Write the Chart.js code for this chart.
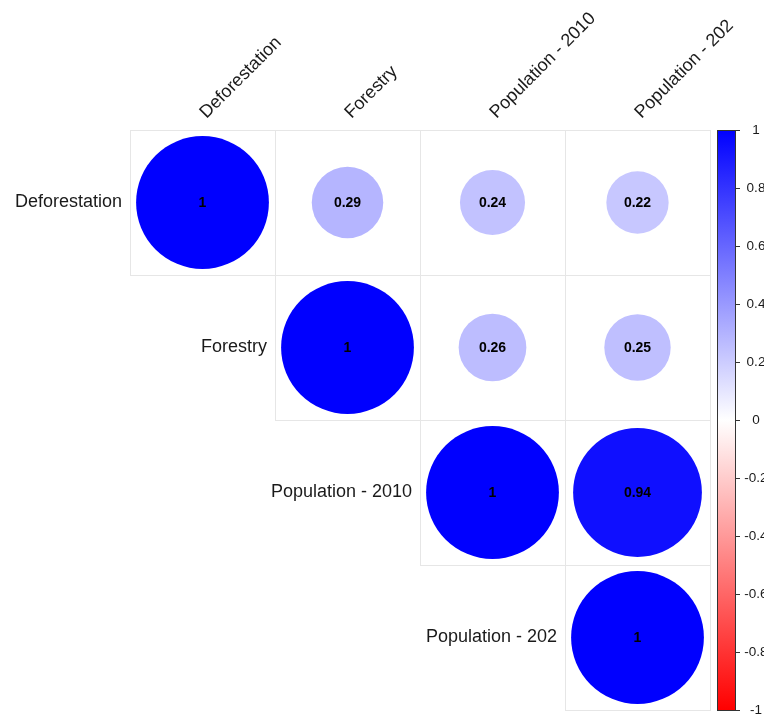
<!DOCTYPE html>
<html>
<head>
<meta charset="utf-8">
<title>Correlation matrix</title>
<script src="https://cdn.jsdelivr.net/npm/chart.js@4.4.1/dist/chart.umd.min.js"></script>
<style>
  html, body { margin: 0; padding: 0; background: #fff; }
  #wrap { width: 764px; height: 717px; }
</style>
</head>
<body>
<div id="wrap"><canvas id="corrChart" width="764" height="717"></canvas></div>
<script>
// variables and upper-triangle correlations (null = lower triangle, not drawn)
const variables = ['Deforestation', 'Forestry', 'Population - 2010', 'Population - 202'];
const rowDeforestation = [1, 0.29, 0.24, 0.22];
const rowForestry = [null, 1, 0.26, 0.25];
const rowPop2010 = [null, null, 1, 0.94];
const rowPop202 = [null, null, null, 1];
const corrRows = [rowDeforestation, rowForestry, rowPop2010, rowPop202];

// colour legend ticks
const legendTicks = [1, 0.8, 0.6, 0.4, 0.2, 0, -0.2, -0.4, -0.6, -0.8, -1];

const FONT = '"Liberation Sans", Arial, Helvetica, sans-serif';

// red - white - blue ramp
function corrColor(v) {
  if (v >= 0) {
    const c = Math.round(255 * (1 - v));
    return `rgb(${c},${c},255)`;
  }
  const c = Math.round(255 * (1 + v));
  return `rgb(255,${c},${c})`;
}

// one point per upper-triangle cell
const points = [];
corrRows.forEach((row, i) => {
  row.forEach((v, j) => {
    if (v !== null) points.push({ x: j + 0.5, y: i + 0.5, v: v });
  });
});

function cellSize(chart) {
  const s = chart.scales.x;
  return s.getPixelForValue(1) - s.getPixelForValue(0);
}

const corrPlugin = {
  id: 'corrDecor',
  beforeDatasetsDraw(chart) {
    const { ctx, scales: { x, y } } = chart;
    ctx.save();
    ctx.strokeStyle = '#e6e6e6';
    ctx.lineWidth = 1;
    corrRows.forEach((row, i) => {
      row.forEach((v, j) => {
        if (v === null) return;
        const x0 = Math.round(x.getPixelForValue(j)) + 0.5;
        const x1 = Math.round(x.getPixelForValue(j + 1)) + 0.5;
        const y0 = Math.round(y.getPixelForValue(i)) + 0.5;
        const y1 = Math.round(y.getPixelForValue(i + 1)) + 0.5;
        ctx.strokeRect(x0, y0, x1 - x0, y1 - y0);
      });
    });
    ctx.restore();
  },
  afterDatasetsDraw(chart) {
    const { ctx, scales: { x, y, cb } } = chart;
    ctx.save();

    // numbers inside circles
    ctx.fillStyle = '#000';
    ctx.font = 'bold 14px ' + FONT;
    ctx.textAlign = 'center';
    ctx.textBaseline = 'middle';
    points.forEach(p => {
      ctx.fillText(String(p.v), x.getPixelForValue(p.x), y.getPixelForValue(p.y) + 1);
    });

    // row labels, right-aligned just left of the diagonal cell
    ctx.fillStyle = '#1a1a1a';
    ctx.font = '18px ' + FONT;
    ctx.textAlign = 'right';
    variables.forEach((name, i) => {
      ctx.fillText(name, x.getPixelForValue(i) - 8, y.getPixelForValue(i + 0.5));
    });

    // column labels rotated 45 degrees
    ctx.textAlign = 'left';
    ctx.textBaseline = 'alphabetic';
    variables.forEach((name, j) => {
      ctx.save();
      ctx.translate(x.getPixelForValue(j + 0.5) + 4, y.getPixelForValue(0) - 11);
      ctx.rotate(-Math.PI / 4);
      ctx.fillText(name, 0, 0);
      ctx.restore();
    });

    // colour bar
    const bx = 717, bw = 19;
    const top = cb.getPixelForValue(1), bottom = cb.getPixelForValue(-1);
    const grad = ctx.createLinearGradient(0, top, 0, bottom);
    grad.addColorStop(0, corrColor(1));
    grad.addColorStop(0.5, corrColor(0));
    grad.addColorStop(1, corrColor(-1));
    ctx.fillStyle = grad;
    ctx.fillRect(bx, top, bw, bottom - top);
    ctx.strokeStyle = '#333';
    ctx.lineWidth = 1;
    ctx.strokeRect(bx + 0.5, top + 0.5, bw - 1, bottom - top);

    ctx.fillStyle = '#1a1a1a';
    ctx.font = '13.5px ' + FONT;
    ctx.textAlign = 'center';
    ctx.textBaseline = 'middle';
    legendTicks.forEach(t => {
      const py = Math.round(cb.getPixelForValue(t)) + 0.5;
      ctx.beginPath();
      ctx.moveTo(bx + bw, py);
      ctx.lineTo(bx + bw + 4, py);
      ctx.strokeStyle = '#333';
      ctx.stroke();
      ctx.fillText(String(t), 756, py);
    });
    ctx.restore();
  }
};

new Chart(document.getElementById('corrChart'), {
  type: 'scatter',
  data: {
    datasets: [{
      data: points,
      pointRadius: c => Math.sqrt(Math.abs(c.raw.v)) * cellSize(c.chart) * 0.458,
      pointHoverRadius: c => Math.sqrt(Math.abs(c.raw.v)) * cellSize(c.chart) * 0.458,
      pointBackgroundColor: c => corrColor(c.raw.v),
      pointHoverBackgroundColor: c => corrColor(c.raw.v),
      pointBorderWidth: 0,
      pointHoverBorderWidth: 0
    }]
  },
  options: {
    responsive: false,
    animation: false,
    layout: { padding: { left: 130, top: 130, right: 54, bottom: 7 } },
    plugins: { legend: { display: false }, tooltip: { enabled: false } },
    events: [],
    scales: {
      x: { type: 'linear', min: 0, max: 4, display: false },
      y: { type: 'linear', min: 0, max: 4, reverse: true, display: false },
      cb: { type: 'linear', axis: 'y', min: -1, max: 1, display: false }
    }
  },
  plugins: [corrPlugin]
});
</script>
</body>
</html>
